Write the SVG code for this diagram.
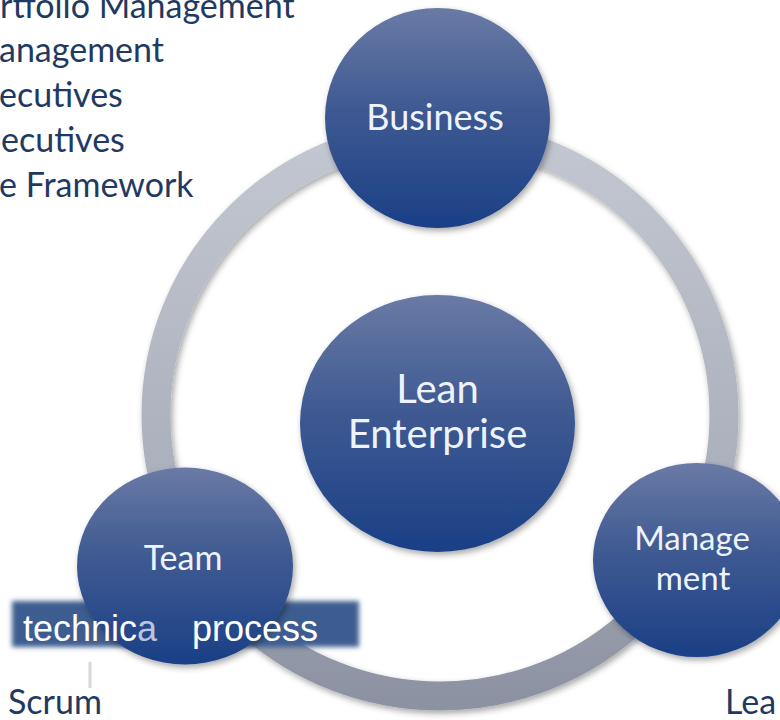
<svg xmlns="http://www.w3.org/2000/svg" width="780" height="720" viewBox="0 0 780 720">
  <style>
    .node-label { font-family: Lato, "Open Sans", "DejaVu Sans", sans-serif; fill: #eef3fa; text-anchor: middle; }
    .list { font-family: Lato, "Noto Sans", sans-serif; font-size: 34px; fill: #1f3a62; }
    .bar-text { font-family: "Liberation Sans", Arial, sans-serif; font-size: 36px; fill: #ffffff; }
  </style>
  <defs>
    <linearGradient id="sphere" x1="0" y1="0" x2="0" y2="1">
      <stop offset="0" stop-color="#6a7aa5"/>
      <stop offset="0.45" stop-color="#3f5a92"/>
      <stop offset="1" stop-color="#1b3f86"/>
    </linearGradient>
    <linearGradient id="ringFill" x1="0" y1="0" x2="0" y2="1">
      <stop offset="0" stop-color="#c3c7d1"/>
      <stop offset="0.6" stop-color="#aab0bc"/>
      <stop offset="1" stop-color="#8c92a1"/>
    </linearGradient>
    <filter id="shadow" x="-20%" y="-20%" width="140%" height="140%">
      <feDropShadow dx="2" dy="3" stdDeviation="3" flood-color="#000" flood-opacity="0.35"/>
    </filter>
    <filter id="soft" x="-10%" y="-40%" width="120%" height="180%">
      <feGaussianBlur stdDeviation="2.5"/>
    </filter>
  </defs>

  <!-- ring linking the three outer circles -->
  <g id="connectors">
    <ellipse cx="440" cy="415" rx="284" ry="281" fill="none" stroke="url(#ringFill)" stroke-width="29" filter="url(#shadow)"/>
  </g>

  <g id="lean-enterprise">
    <ellipse cx="437.5" cy="423.5" rx="137.5" ry="128.5" fill="url(#sphere)" filter="url(#shadow)"/>
    <text class="node-label" x="437.5" y="403" font-size="40">Lean</text>
    <text class="node-label" x="437.5" y="448" font-size="40">Enterprise</text>
  </g>

  <g id="business">
    <ellipse cx="437.5" cy="118" rx="112.5" ry="110" fill="url(#sphere)" filter="url(#shadow)"/>
    <text class="node-label" x="435" y="130" font-size="36">Business</text>
  </g>

  <g id="management">
    <ellipse cx="697" cy="560" rx="104" ry="97" fill="url(#sphere)" filter="url(#shadow)"/>
    <text class="node-label" x="692" y="550" font-size="33">Manage</text>
    <text class="node-label" x="693" y="590" font-size="33">ment</text>
  </g>

  <!-- label bar behind the Team circle -->
  <rect x="12" y="601" width="347" height="46" fill="#3e5d90" filter="url(#soft)"/>

  <g id="team">
    <ellipse cx="185" cy="566" rx="108" ry="98.5" fill="url(#sphere)" filter="url(#shadow)"/>
    <text class="node-label" x="183" y="570" font-size="34">Team</text>
  </g>

  <g id="bar-labels">
    <text class="bar-text" x="23" y="641">technic<tspan fill-opacity="0.7">a</tspan></text>
    <text class="bar-text" x="192" y="641">process</text>
    <line x1="90" y1="662" x2="90" y2="688" stroke="#d3d7df" stroke-width="3"/>
  </g>

  <g id="list">
    <text class="list" x="0" y="18">rtfolio Management</text>
    <text class="list" x="-1" y="62">anagement</text>
    <text class="list" x="-1" y="107">ecutives</text>
    <text class="list" x="1" y="152">ecutives</text>
    <text class="list" x="-1" y="197">e Framework</text>
  </g>

  <text class="list" x="8" y="714">Scrum</text>
  <text class="list" x="725" y="714">Lea</text>
</svg>
